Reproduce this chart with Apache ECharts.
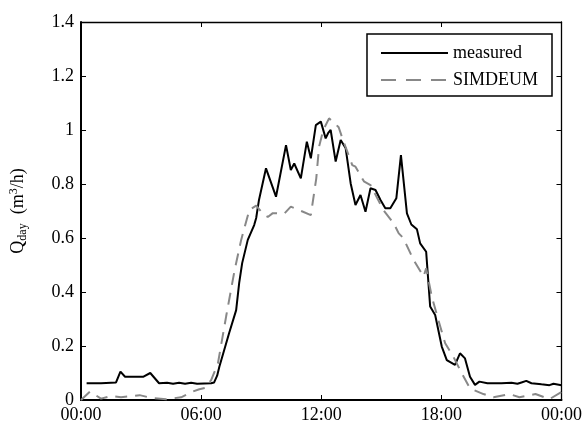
<!DOCTYPE html>
<html>
<head>
<meta charset="utf-8">
<script src="https://cdn.jsdelivr.net/npm/echarts@6/dist/echarts.min.js"></script>
<style>
  html, body { margin: 0; padding: 0; background: #fff; }
  #chart { width: 585px; height: 427px; }
</style>
</head>
<body>
<div id="chart"></div>
<script>
// Daily flow profile: hour of day vs. flow (m3/h)
const measuredHours = [0.28, 1.0, 1.75, 1.97, 2.2, 3.1, 3.46, 3.9, 4.3, 4.6, 4.9, 5.2, 5.5, 5.8, 6.5, 6.65, 6.8, 6.91,
  7.4, 7.75, 7.9, 8.05, 8.33, 8.65, 8.75, 8.89, 9.24, 9.74, 10.24, 10.48, 10.65, 10.98, 11.28, 11.48, 11.73, 11.98,
  12.22, 12.34, 12.47, 12.72, 12.97, 13.22, 13.47, 13.71, 13.96, 14.21, 14.46, 14.71, 14.96, 15.2, 15.45, 15.75,
  15.98, 16.28, 16.5, 16.78, 16.94, 17.24, 17.44, 17.69, 18.02, 18.27, 18.68, 18.93, 19.18, 19.43, 19.68, 19.9,
  20.3, 21.0, 21.5, 21.8, 22.0, 22.24, 22.5, 23.0, 23.4, 23.6, 24.0];
const measuredFlow = [0.062, 0.062, 0.065, 0.105, 0.086, 0.086, 0.100, 0.062, 0.064, 0.060, 0.064, 0.060, 0.064, 0.060, 0.062, 0.065, 0.090, 0.123,
  0.248, 0.333, 0.433, 0.507, 0.593, 0.648, 0.674, 0.741, 0.858, 0.753, 0.944, 0.852, 0.876, 0.821, 0.957, 0.895, 1.018, 1.031,
  0.969, 0.988, 1.000, 0.883, 0.963, 0.932, 0.802, 0.722, 0.759, 0.697, 0.784, 0.778, 0.741, 0.710, 0.710, 0.747,
  0.907, 0.691, 0.650, 0.632, 0.580, 0.549, 0.346, 0.315, 0.198, 0.148, 0.130, 0.173, 0.154, 0.086, 0.056, 0.068,
  0.062, 0.062, 0.064, 0.060, 0.065, 0.071, 0.062, 0.058, 0.055, 0.060, 0.055];

const simHours = [0.0, 0.45, 1.0, 1.5, 2.0, 2.93, 3.5, 4.26, 5.0, 5.58, 5.91, 6.2, 6.5, 6.84, 7.25, 7.67, 8.0, 8.41, 8.75,
  9.08, 9.33, 9.58, 10.15, 10.48, 11.0, 11.48, 11.75, 11.89, 12.1, 12.39, 12.6, 12.87, 13.1, 13.55, 13.71, 14.13, 14.46,
  15.1, 15.62, 15.87, 16.1, 16.6, 17.11, 17.24, 17.52, 17.85, 18.19, 18.6, 19.02, 19.43, 20.1, 20.6, 21.4, 21.9, 22.7, 23.4, 24.0];
const simFlow = [0.0, 0.031, 0.005, 0.015, 0.010, 0.018, 0.008, 0.003, 0.010, 0.031, 0.040, 0.045, 0.074, 0.136, 0.310, 0.480, 0.593, 0.704, 0.720,
  0.690, 0.678, 0.692, 0.690, 0.716, 0.700, 0.685, 0.820, 0.938, 1.000, 1.043, 1.030, 1.010, 0.960, 0.870, 0.864, 0.810, 0.796,
  0.704, 0.654, 0.617, 0.600, 0.520, 0.457, 0.488, 0.383, 0.296, 0.210, 0.160, 0.099, 0.043, 0.022, 0.010, 0.022, 0.010, 0.022, 0.003, 0.030];

const xTickLabels = ['00:00', '06:00', '12:00', '18:00', '00:00'];
const seriesNames = ['measured', 'SIMDEUM'];

const FONT = 'Liberation Serif';
const pairs = (xs, ys) => xs.map((x, i) => [x, ys[i]]);

const chart = echarts.init(document.getElementById('chart'), null, { renderer: 'canvas' });

const tickCommon = { show: true, inside: true, length: 5, lineStyle: { color: '#000', width: 1 } };

chart.setOption({
  animation: false,
  backgroundColor: '#fff',
  grid: { left: 79, right: 23, top: 22, bottom: 27 },
  legend: {
    orient: 'vertical',
    right: 33,
    top: 34,
    itemWidth: 67,
    itemHeight: 14,
    itemGap: 9,
    padding: [10, 14, 7, 13],
    borderColor: '#000',
    borderWidth: 1.5,
    borderRadius: 0,
    backgroundColor: '#fff',
    textStyle: { fontFamily: FONT, fontSize: 18, color: '#000' },
    itemStyle: { opacity: 0 },
    data: [
      { name: seriesNames[0], lineStyle: { width: 2 } },
      { name: seriesNames[1], lineStyle: { width: 2, type: [15, 10] } }
    ]
  },
  xAxis: [
    {
      type: 'value', min: 0, max: 24, interval: 6,
      axisLine: { show: true, onZero: false, lineStyle: { color: '#000', width: 2 } },
      axisTick: tickCommon,
      splitLine: { show: false },
      axisLabel: {
        margin: 6, color: '#000', fontFamily: FONT, fontSize: 18,
        formatter: (v) => xTickLabels[Math.round(v / 6)]
      }
    },
    {
      type: 'value', min: 0, max: 24, interval: 6, position: 'top',
      axisLine: { show: true, onZero: false, lineStyle: { color: '#000', width: 1.3 } },
      axisTick: tickCommon,
      splitLine: { show: false },
      axisLabel: { show: false }
    }
  ],
  yAxis: [
    {
      type: 'value', min: 0, max: 1.4, interval: 0.2,
      axisLine: { show: true, onZero: false, lineStyle: { color: '#000', width: 2 } },
      axisTick: tickCommon,
      splitLine: { show: false },
      axisLabel: { margin: 7, color: '#000', fontFamily: FONT, fontSize: 18 },
      name: '{q|Q}{s|day}{q|  (m}{p|3}{q|/h)}',
      nameLocation: 'middle',
      nameGap: 52,
      nameTextStyle: {
        color: '#000', fontFamily: FONT, fontSize: 18,
        rich: {
          q: { fontFamily: FONT, fontSize: 18, color: '#000' },
          s: { fontFamily: FONT, fontSize: 12, color: '#000', padding: [9, 0, 0, 0] },
          p: { fontFamily: FONT, fontSize: 12, color: '#000', padding: [0, 0, 9, 0] }
        }
      }
    },
    {
      type: 'value', min: 0, max: 1.4, interval: 0.2, position: 'right',
      axisLine: { show: true, onZero: false, lineStyle: { color: '#000', width: 1.3 } },
      axisTick: tickCommon,
      splitLine: { show: false },
      axisLabel: { show: false }
    }
  ],
  series: [
    {
      name: seriesNames[0],
      type: 'line',
      data: pairs(measuredHours, measuredFlow),
      showSymbol: false,
      symbol: 'none',
      lineStyle: { color: '#000', width: 2 },
      itemStyle: { color: '#000' }
    },
    {
      name: seriesNames[1],
      type: 'line',
      data: pairs(simHours, simFlow),
      showSymbol: false,
      symbol: 'none',
      lineStyle: { color: '#888', width: 2, type: [12, 8] },
      itemStyle: { color: '#888' }
    }
  ]
});
</script>
</body>
</html>
